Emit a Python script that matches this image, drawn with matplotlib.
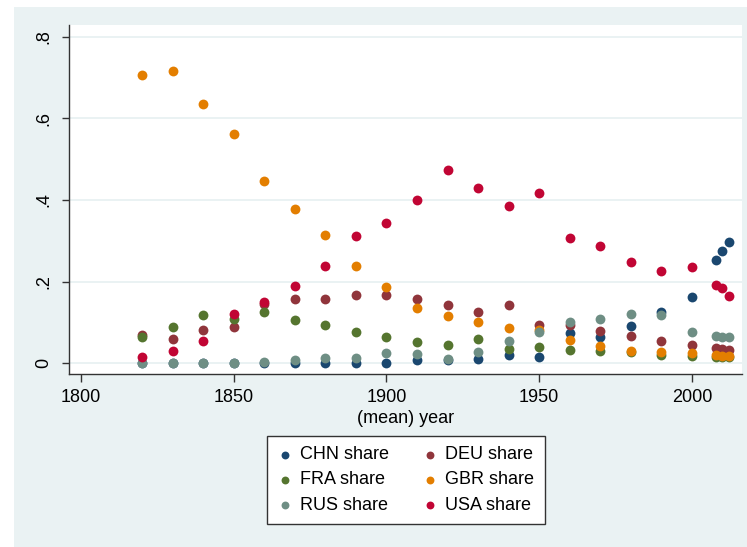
import matplotlib

matplotlib.use("Agg")
import matplotlib.pyplot as plt
from matplotlib.patches import Rectangle

plt.rcParams["font.family"] = ["Liberation Sans", "DejaVu Sans"]

# (mean) year of each collapsed period
years = [1820, 1830, 1840, 1850, 1860, 1870, 1880, 1890, 1900, 1910, 1920,
         1930, 1940, 1950, 1960, 1970, 1980, 1990, 2000, 2008, 2010, 2012]

chn = [0.0, 0.0, 0.0, 0.0, 0.0, 0.0, 0.0, 0.0, 0.0, 0.008, 0.008,
       0.0095, 0.019, 0.0145, 0.073, 0.063, 0.092, 0.125, 0.161, 0.253, 0.276, 0.297]
deu = [0.069, 0.059, 0.081, 0.0895, 0.146, 0.157, 0.1565, 0.167, 0.167, 0.157, 0.143,
       0.125, 0.143, 0.093, 0.093, 0.079, 0.067, 0.054, 0.044, 0.0365, 0.035, 0.032]
fra = [0.0634, 0.0895, 0.118, 0.108, 0.1255, 0.105, 0.0936, 0.0765, 0.065, 0.053, 0.045,
       0.059, 0.035, 0.039, 0.032, 0.031, 0.028, 0.020, 0.0177, 0.016, 0.015, 0.014]
gbr = [0.705, 0.716, 0.635, 0.562, 0.447, 0.379, 0.315, 0.238, 0.1875, 0.136, 0.116,
       0.101, 0.087, 0.081, 0.057, 0.042, 0.031, 0.027, 0.024, 0.020, 0.018, 0.017]
rus = [0.0, 0.0, 0.001, 0.001, 0.002, 0.007, 0.012, 0.0135, 0.025, 0.023, 0.0095,
       0.028, 0.055, 0.076, 0.102, 0.108, 0.1205, 0.117, 0.0765, 0.0667, 0.0634, 0.063]
usa = [0.016, 0.030, 0.0544, 0.12, 0.149, 0.190, 0.239, 0.312, 0.344, 0.400, 0.473,
       0.429, 0.384, 0.416, 0.306, 0.286, 0.249, 0.227, 0.2366, 0.191, 0.185, 0.165]

labels = ["CHN share", "DEU share", "FRA share", "GBR share", "RUS share", "USA share"]
# stata s2color: navy, maroon, forest_green, dkorange, teal, cranberry
colors = ["#1A476F", "#90353B", "#55752F", "#E37E00", "#6E8E84", "#C10534"]

xticks = [1800, 1850, 1900, 1950, 2000]
yticks = [0, 0.2, 0.4, 0.6, 0.8]
ytick_labels = ["0", ".2", ".4", ".6", ".8"]

BG = "#EAF2F3"

fig = plt.figure(figsize=(7.47, 5.47), dpi=100)
fig.patch.set_facecolor("white")
fig.add_artist(Rectangle((14 / 747, 0), 1, 1 - 7 / 547, transform=fig.transFigure,
                         facecolor=BG, edgecolor="none", zorder=-10))

ax = fig.add_axes([69 / 747, 1 - 374 / 547, 673 / 747, 349 / 547])
ax.set_facecolor("white")

handles = []
for ys, col, lab in zip([chn, deu, fra, gbr, rus, usa], colors, labels):
    handles.append(ax.scatter(years, ys, s=50, color=col, linewidths=0, label=lab, zorder=3))

ax.set_xlim(1796.07, 2016.4)
ax.set_ylim(-0.0265, 0.8287)
ax.set_xticks(xticks)
ax.set_yticks(yticks)
ax.set_yticklabels(ytick_labels, rotation=90, va="center")
ax.grid(axis="y", color=BG, lw=1.4, zorder=0)
ax.grid(axis="x", visible=False)

for side in ("top", "right"):
    ax.spines[side].set_visible(False)
for side in ("left", "bottom"):
    ax.spines[side].set_color("#333333")
    ax.spines[side].set_linewidth(1.0)

ax.tick_params(axis="x", length=6, width=1, color="#333333", labelsize=13, pad=5)
ax.tick_params(axis="y", length=5, width=1, color="#333333", labelsize=13, pad=7)
ax.set_xlabel("(mean) year", fontsize=13, labelpad=3)

# legend fills column-major, so reorder to read row-wise like stata
order = [0, 2, 4, 1, 3, 5]
leg = ax.legend([handles[i] for i in order], [labels[i] for i in order],
                ncol=2, loc="center", bbox_to_anchor=(406 / 747, 1 - 480 / 547),
                bbox_transform=fig.transFigure, fontsize=13, markerscale=0.8,
                frameon=True, fancybox=False, edgecolor="#333333", framealpha=1,
                handletextpad=0.4, columnspacing=1.9, labelspacing=0.45,
                borderpad=0.6, handlelength=0.8)
leg.get_frame().set_linewidth(1.0)

fig.savefig("out.png", dpi=100)
